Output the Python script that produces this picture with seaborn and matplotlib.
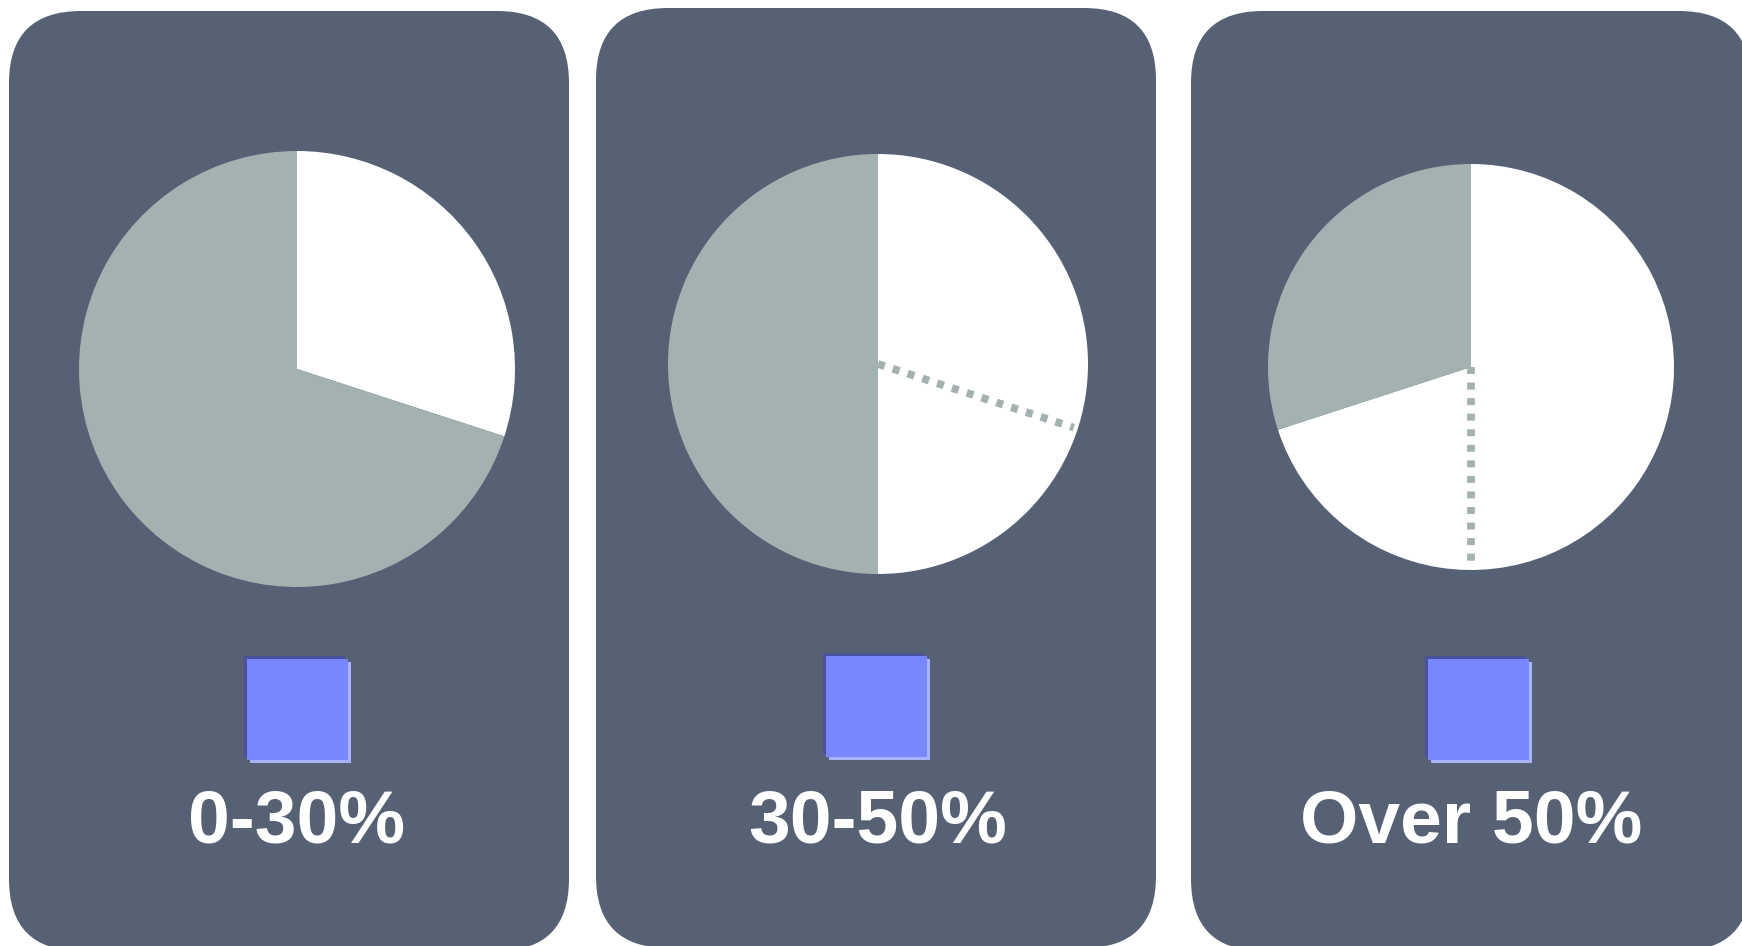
import matplotlib
matplotlib.use("Agg")
import numpy as np
import matplotlib.pyplot as plt
import seaborn as sns
from matplotlib.patches import FancyBboxPatch, Rectangle

sns.set_theme(style="white")
plt.rcParams['font.family'] = ['Liberation Sans', 'DejaVu Sans']

# Data
labels = ["0-30%", "30-50%", "Over 50%"]
upper_pct = [30, 50, 70]     # white share of each pie
lower_pct = [None, 30, 50]   # dotted marker at lower bound of the range

# Colours
CARD = "#566174"
GREY = "#a3b2b0"
SQUARE = "#7888fc"
SQ_DARK = "#4a529e"
SQ_LIGHT = "#a8b2ff"

W, H = 1742, 946
fig = plt.figure(figsize=(W / 100, H / 100), dpi=100)
ax = fig.add_axes([0, 0, 1, 1])

# layout (pixel coordinates, y measured from top)
card_x = [9, 596, 1191]
card_top = [11, 8, 11]
card_w, card_h, card_r = 560, 940, 72
pie_cx = [297, 878, 1471]
pie_cy = [369, 364, 367]
pie_r = [218, 210, 203]
sq_x = [247, 826, 1428]
sq_y = [659, 656, 659]
sq_s = 101
label_y = 823


def fy(y):
    return H - y


for i in range(3):
    card = FancyBboxPatch((card_x[i] + card_r, fy(card_top[i] + card_h) + card_r),
                          card_w - 2 * card_r, card_h - 2 * card_r,
                          boxstyle=f"round,pad={card_r}", fc=CARD, ec="none", zorder=1)
    ax.add_patch(card)

    white = upper_pct[i]
    cx, cy, r = pie_cx[i], fy(pie_cy[i]), pie_r[i]
    ax.pie([white, 100 - white], colors=["white", GREY], startangle=90,
           counterclock=False, center=(cx, cy), radius=r, frame=True,
           wedgeprops=dict(linewidth=0, zorder=2))

    if lower_pct[i] is not None:
        ang = np.deg2rad(90 - lower_pct[i] * 3.6)
        rr = r * 0.98
        ax.plot([cx, cx + rr * np.cos(ang)], [cy, cy + rr * np.sin(ang)],
                color=GREY, lw=5.6, ls=(0, (0.9, 1.1)), solid_capstyle="butt",
                dash_capstyle="butt", zorder=3)

    # square marker with bevel-like shadow
    x0, y0 = sq_x[i], fy(sq_y[i] + sq_s)
    ax.add_patch(Rectangle((x0 - 3, y0 + 3), sq_s, sq_s, fc=SQ_DARK, ec="none", zorder=4))
    ax.add_patch(Rectangle((x0 + 3, y0 - 3), sq_s, sq_s, fc=SQ_LIGHT, ec="none", zorder=4))
    ax.add_patch(Rectangle((x0, y0), sq_s, sq_s, fc=SQUARE, ec="none", zorder=5))

    ax.text(pie_cx[i], fy(label_y), labels[i], color="white", fontsize=54,
            fontweight="bold", ha="center", va="center", zorder=6)

ax.set_xlim(0, W)
ax.set_ylim(0, H)
ax.set_aspect("equal")
ax.axis("off")

fig.savefig("out.png", dpi=100, facecolor="white")
